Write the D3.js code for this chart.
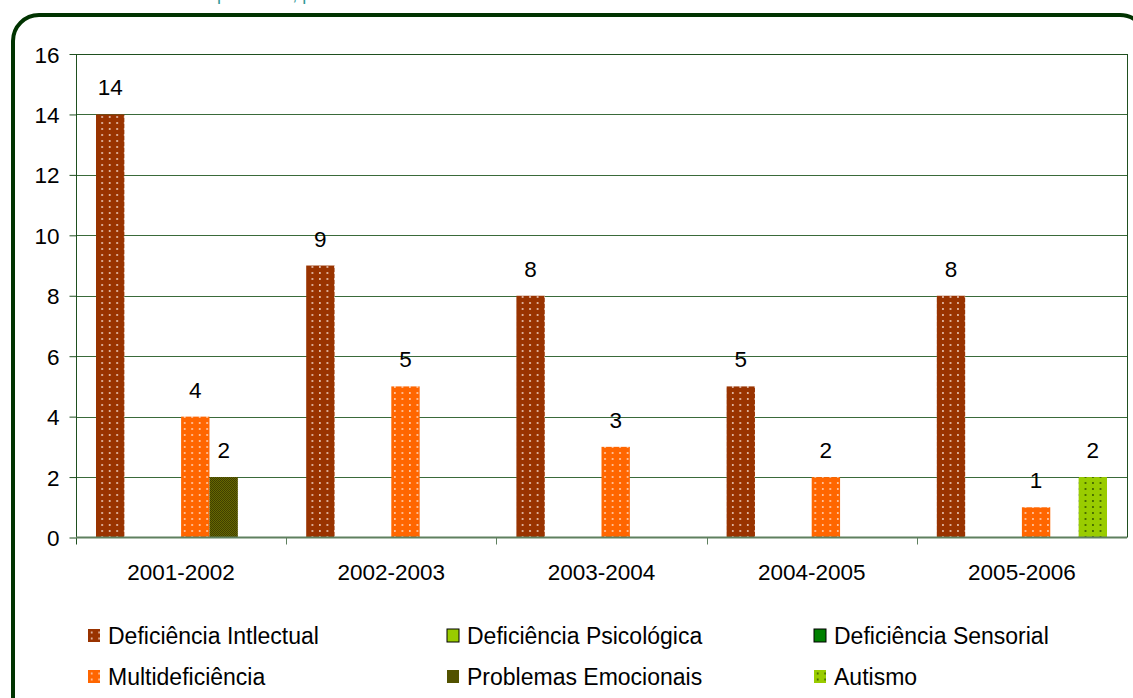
<!DOCTYPE html>
<html>
<head>
<meta charset="utf-8">
<script src="https://cdn.jsdelivr.net/npm/d3@7"></script>
<style>
  html, body { margin: 0; padding: 0; background: #ffffff; }
  svg { display: block; font-family: "Liberation Sans", Arial, sans-serif; }
</style>
</head>
<body>
<svg id="chart" width="1133" height="698"></svg>
<script>
// ---- Data ----
const categories = ["2001-2002", "2002-2003", "2003-2004", "2004-2005", "2005-2006"];
const seriesNames = ["Deficiência Intlectual", "Deficiência Psicológica", "Deficiência Sensorial",
                     "Multideficiência", "Problemas Emocionais", "Autismo"];
const defIntelectual = [14, 9, 8, 5, 8];
const defPsicologica = [0, 0, 0, 0, 0];
const defSensorial   = [0, 0, 0, 0, 0];
const multideficiencia = [4, 5, 3, 2, 1];
const problemasEmocionais = [2, 0, 0, 0, 0];
const autismo = [0, 0, 0, 0, 2];
const seriesValues = [defIntelectual, defPsicologica, defSensorial, multideficiencia, problemasEmocionais, autismo];
const yTicks = [0, 2, 4, 6, 8, 10, 12, 14, 16];
const titleText = "Alunos de cada problema, por ano lectivo";

(function () {
// ---- Setup ----
const svg = d3.select("#chart");
const defs = svg.append("defs");

function dotPattern(id, bg, dot) {
  const p = defs.append("pattern").attr("id", id).attr("patternUnits", "userSpaceOnUse")
    .attr("width", 7.5).attr("height", 6);
  p.append("rect").attr("width", 7.5).attr("height", 6).attr("fill", bg);
  p.append("circle").attr("cx", 3.7).attr("cy", 3).attr("r", 0.95).attr("fill", dot);
}
dotPattern("pDI", "#993300", "#f2d6c8");
dotPattern("pMulti", "#ff6600", "#ffd8bf");
dotPattern("pAut", "#99cc00", "#2f4f00");
(function () {
  const p = defs.append("pattern").attr("id", "pProb").attr("patternUnits", "userSpaceOnUse")
    .attr("width", 2).attr("height", 2);
  p.append("rect").attr("width", 2).attr("height", 2).attr("fill", "#666600");
  p.append("rect").attr("width", 1).attr("height", 1).attr("fill", "#3f3f00");
  p.append("rect").attr("x", 1).attr("y", 1).attr("width", 1).attr("height", 1).attr("fill", "#3f3f00");
})();
const fills = ["url(#pDI)", "#99cc00", "#008000", "url(#pMulti)", "url(#pProb)", "url(#pAut)"];

// Title fragment (cut off at the top, only descenders visible as in the reference)
svg.append("text").attr("x", 88).attr("y", -0.5)
  .attr("fill", "#339999").attr("font-size", 18).text(titleText);

// Outer rounded frame
svg.append("rect").attr("x", 13).attr("y", 15).attr("width", 1133).attr("height", 720)
  .attr("rx", 26).attr("ry", 26).attr("fill", "none").attr("stroke", "#003300").attr("stroke-width", 4);

// ---- Scales ----
const pLeft = 76, pRight = 1127, pTop = 54, pBottom = 537.5;
const y = d3.scaleLinear().domain([0, 16]).range([pBottom, pTop]);
const x0 = d3.scaleBand().domain(categories).range([pLeft, pRight]).padding(0);
const x1 = d3.scaleBand().domain(seriesNames).range([0, x0.bandwidth()]).paddingInner(0).paddingOuter(0.705);

// Gridlines
svg.append("g").selectAll("line").data(yTicks.filter(t => t > 0)).join("line")
  .attr("x1", pLeft).attr("x2", pRight)
  .attr("y1", d => Math.round(y(d)) + 0.5).attr("y2", d => Math.round(y(d)) + 0.5)
  .attr("stroke", d => d === 16 ? "#1f4f1f" : "#3a6a3a").attr("stroke-width", 1);
// Right border of plot area
svg.append("line").attr("x1", pRight + 0.5).attr("x2", pRight + 0.5).attr("y1", pTop).attr("y2", pBottom)
  .attr("stroke", "#1f4f1f");

// Bars
const groups = svg.append("g").selectAll("g").data(categories).join("g")
  .attr("transform", d => `translate(${x0(d)},0)`);
const barData = (c, ci) => seriesNames.map((s, si) => ({ s, si, v: seriesValues[si][ci] })).filter(d => d.v > 0);
groups.each(function (c, ci) {
  const g = d3.select(this);
  const data = barData(c, ci);
  g.selectAll("rect").data(data).join("rect")
    .attr("x", d => x1(d.s)).attr("width", x1.bandwidth())
    .attr("y", d => y(d.v)).attr("height", d => y(0) - y(d.v))
    .attr("fill", d => fills[d.si]);
  g.selectAll("text").data(data).join("text")
    .attr("x", d => x1(d.s) + x1.bandwidth() / 2).attr("y", d => y(d.v) - 19)
    .attr("text-anchor", "middle").attr("font-size", 22.5).attr("fill", "#000")
    .text(d => d.v);
});

// Y axis
const yAxis = svg.append("g").attr("transform", `translate(${pLeft + 0.5},0)`)
  .call(d3.axisLeft(y).tickValues(yTicks).tickSize(7).tickPadding(10).tickSizeOuter(0));
yAxis.select(".domain").attr("stroke", "#1f4f1f").attr("d", `M0,${pTop}V${pBottom + 7}`);
yAxis.selectAll(".tick line").attr("stroke", "#1f4f1f");
yAxis.selectAll(".tick text").attr("font-size", 22.5).attr("fill", "#000").attr("dy", "0.36em")
  .attr("font-family", "Liberation Sans, Arial, sans-serif");

// X axis
const xAxisG = svg.append("g").attr("transform", `translate(0,${pBottom})`);
xAxisG.append("line").attr("x1", pLeft).attr("x2", pRight).attr("y1", 0).attr("y2", 0)
  .attr("stroke", "#5f805f").attr("stroke-width", 2);
const boundaries = categories.slice(1).map(c => x0(c));
xAxisG.selectAll("line.tk").data(boundaries).join("line").attr("class", "tk")
  .attr("x1", d => Math.round(d) + 0.5).attr("x2", d => Math.round(d) + 0.5).attr("y1", 0).attr("y2", 7)
  .attr("stroke", "#5f805f");
xAxisG.selectAll("text").data(categories).join("text")
  .attr("x", d => x0(d) + x0.bandwidth() / 2).attr("y", 42.5)
  .attr("text-anchor", "middle").attr("font-size", 22.5).attr("fill", "#000").text(d => d);

// Legend
const legendCols = [88, 447, 814];
const legendRows = [635.5, 676.5];
const legend = svg.append("g").selectAll("g").data(seriesNames).join("g")
  .attr("transform", (d, i) => `translate(${legendCols[i % 3]},${legendRows[Math.floor(i / 3)]})`);
legend.append("rect").attr("x", 0).attr("y", -6.5).attr("width", 12).attr("height", 13)
  .attr("fill", (d, i) => fills[i])
  .attr("stroke", (d, i) => (i === 1 || i === 2) ? "#000" : "none").attr("stroke-width", 1);
legend.append("text").attr("x", 20).attr("y", 8).attr("font-size", 23).attr("fill", "#000").text(d => d);
})();
</script>
</body>
</html>
